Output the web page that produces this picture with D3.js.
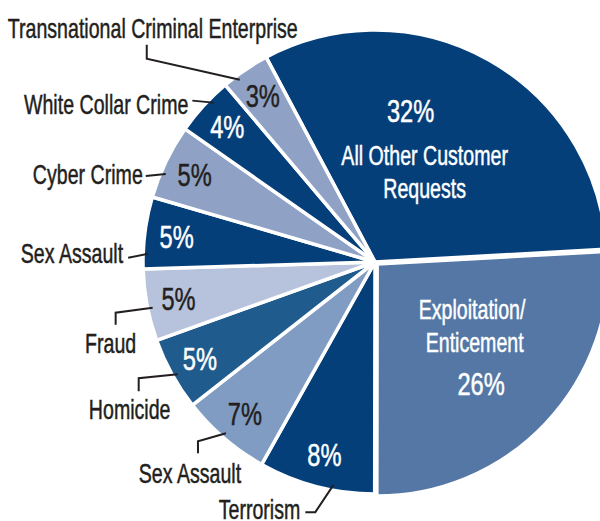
<!DOCTYPE html>
<html>
<head>
<meta charset="utf-8">
<script src="https://cdn.jsdelivr.net/npm/d3@7"></script>
<style>
  body { margin: 0; background: #fff; }
  svg { display: block; }
  text { font-family: "Liberation Sans Narrow", "Liberation Sans", sans-serif; }
</style>
</head>
<body>
<svg id="chart" width="600" height="521"></svg>
<script>
var width = 600,
    height = 521,
    cx = 375, cy = 262,
    radius = 232;

// slices, clockwise from the top-left edge of the big slice
var categories = ["All Other Customer Requests", "Exploitation/Enticement", "Terrorism", "Sex Assault",
                  "Homicide", "Fraud", "Sex Assault", "Cyber Crime", "White Collar Crime",
                  "Transnational Criminal Enterprise"];
var values = [31.9, 25.9, 8.1, 6.3, 5.1, 5.0, 5.0, 5.2, 4.1, 3.4];
var pctLabels = ["32%", "26%", "8%", "7%", "5%", "5%", "5%", "5%", "4%", "3%"];
var colors = ["#053f7a", "#5477a5", "#053f7a", "#819cc3", "#205b8d",
              "#b7c3dc", "#053f7a", "#8fa2c6", "#053f7a", "#8fa2c6"];
var pctDark = [false, false, false, true, false, true, false, true, false, true];

// callouts for the small slices: where on the slice the line starts (0..1 of its angle),
// the bends (relative to that start), and where the label sits relative to the last bend
var callouts = [
  { i: 2, t: 0.36, pts: [[-18, 27], [-28, 27]], text: [-5, 7], anchor: "end" },
  { i: 3, t: 0.52, pts: [[-28, 8], [-28, 20]], text: [-8, 30], anchor: "middle" },
  { i: 4, t: 0.46, pts: [[-39, 4], [-39, 17]], text: [-9, 28], anchor: "middle" },
  { i: 5, t: 0.45, pts: [[-37, 5], [-37, 17]], text: [-5, 28], anchor: "middle" },
  { i: 6, t: 0.21, pts: [[-20, 4]], text: [-5, 5], anchor: "end" },
  { i: 7, t: 0.35, pts: [[-20, 2]], text: [-3, 8], anchor: "end" },
  { i: 8, t: 0.65, pts: [[-21, -2]], text: [-4, 13], anchor: "end" },
  { i: 9, t: 0.30, pts: [[-93, -21], [-93, -35]], text: [6, -7], anchor: "middle" }
];

var svg = d3.select("#chart");
var g = svg.append("g").attr("transform", "translate(" + cx + "," + cy + ")");

var deg = Math.PI / 180;
var pie = d3.pie().sort(null).value(function(d) { return d; })
    .startAngle(-28 * deg).endAngle(-28 * deg + 2 * Math.PI);
var arcs = pie(values);
var arc = d3.arc().innerRadius(0).outerRadius(radius);

function polar(r, a) { return [r * Math.sin(a), -r * Math.cos(a)]; }
function mid(d) { return (d.startAngle + d.endAngle) / 2; }

// pull the Exploitation slice out a little
function explode(i) {
  if (i != 1) return [0, 0];
  return polar(3, mid(arcs[1]));
}

g.selectAll("path.slice")
  .data(arcs)
  .enter().append("path")
  .attr("class", "slice")
  .attr("d", arc)
  .attr("transform", function(d, i) { var o = explode(i); return "translate(" + o[0] + "," + o[1] + ")"; })
  .style("fill", function(d, i) { return colors[i]; })
  .style("stroke", "#fff")
  .style("stroke-width", 3.5)
  .style("stroke-linejoin", "round");

// condensed look: squeeze the glyphs sideways, thicken them a touch
function addText(sel, x, y, str, size, fill, anchor, sx) {
  return sel.append("text")
    .attr("transform", "translate(" + x + "," + y + ") scale(" + (sx || 0.7) + ",1)")
    .attr("text-anchor", anchor || "middle")
    .style("font-size", size + "px")
    .style("fill", fill)
    .style("stroke", fill)
    .style("stroke-width", 0.5)
    .text(str);
}

// percent labels on the small slices
arcs.forEach(function(d, i) {
  if (i < 2) return;
  var p = polar(200, mid(d));
  addText(g, p[0], p[1] + 11, pctLabels[i], 32, pctDark[i] ? "#231f20" : "#fff", "middle", 0.74);
});

// big slice labels
var a0 = polar(122, 24 * deg);
addText(g, a0[0] - 14, a0[1] - 28.5, pctLabels[0], 32, "#fff", "middle", 0.74);
addText(g, a0[0], a0[1] + 14.5, "All Other Customer", 28, "#fff");
addText(g, a0[0], a0[1] + 47.5, "Requests", 28, "#fff");

var a1 = polar(139, mid(arcs[1])), o1 = explode(1);
addText(g, a1[0] + o1[0] - 6, a1[1] + o1[1] - 40.6, "Exploitation/", 28, "#fff");
addText(g, a1[0] + o1[0] - 3.4, a1[1] + o1[1] - 7.6, "Enticement", 28, "#fff");
addText(g, a1[0] + o1[0] + 3, a1[1] + o1[1] + 35.4, pctLabels[1], 32, "#fff", "middle", 0.74);

// callout lines and names
var line = d3.line();
callouts.forEach(function(c) {
  var d = arcs[c.i];
  var s = polar(227, d.startAngle + c.t * (d.endAngle - d.startAngle));
  var pts = [s].concat(c.pts.map(function(p) { return [s[0] + p[0], s[1] + p[1]]; }));
  g.append("path")
    .attr("d", line(pts))
    .style("fill", "none")
    .style("stroke", "#231f20")
    .style("stroke-width", 2);
  var last = pts[pts.length - 1];
  addText(g, last[0] + c.text[0], last[1] + c.text[1], categories[c.i], 28, "#231f20", c.anchor);
});
</script>
</body>
</html>
